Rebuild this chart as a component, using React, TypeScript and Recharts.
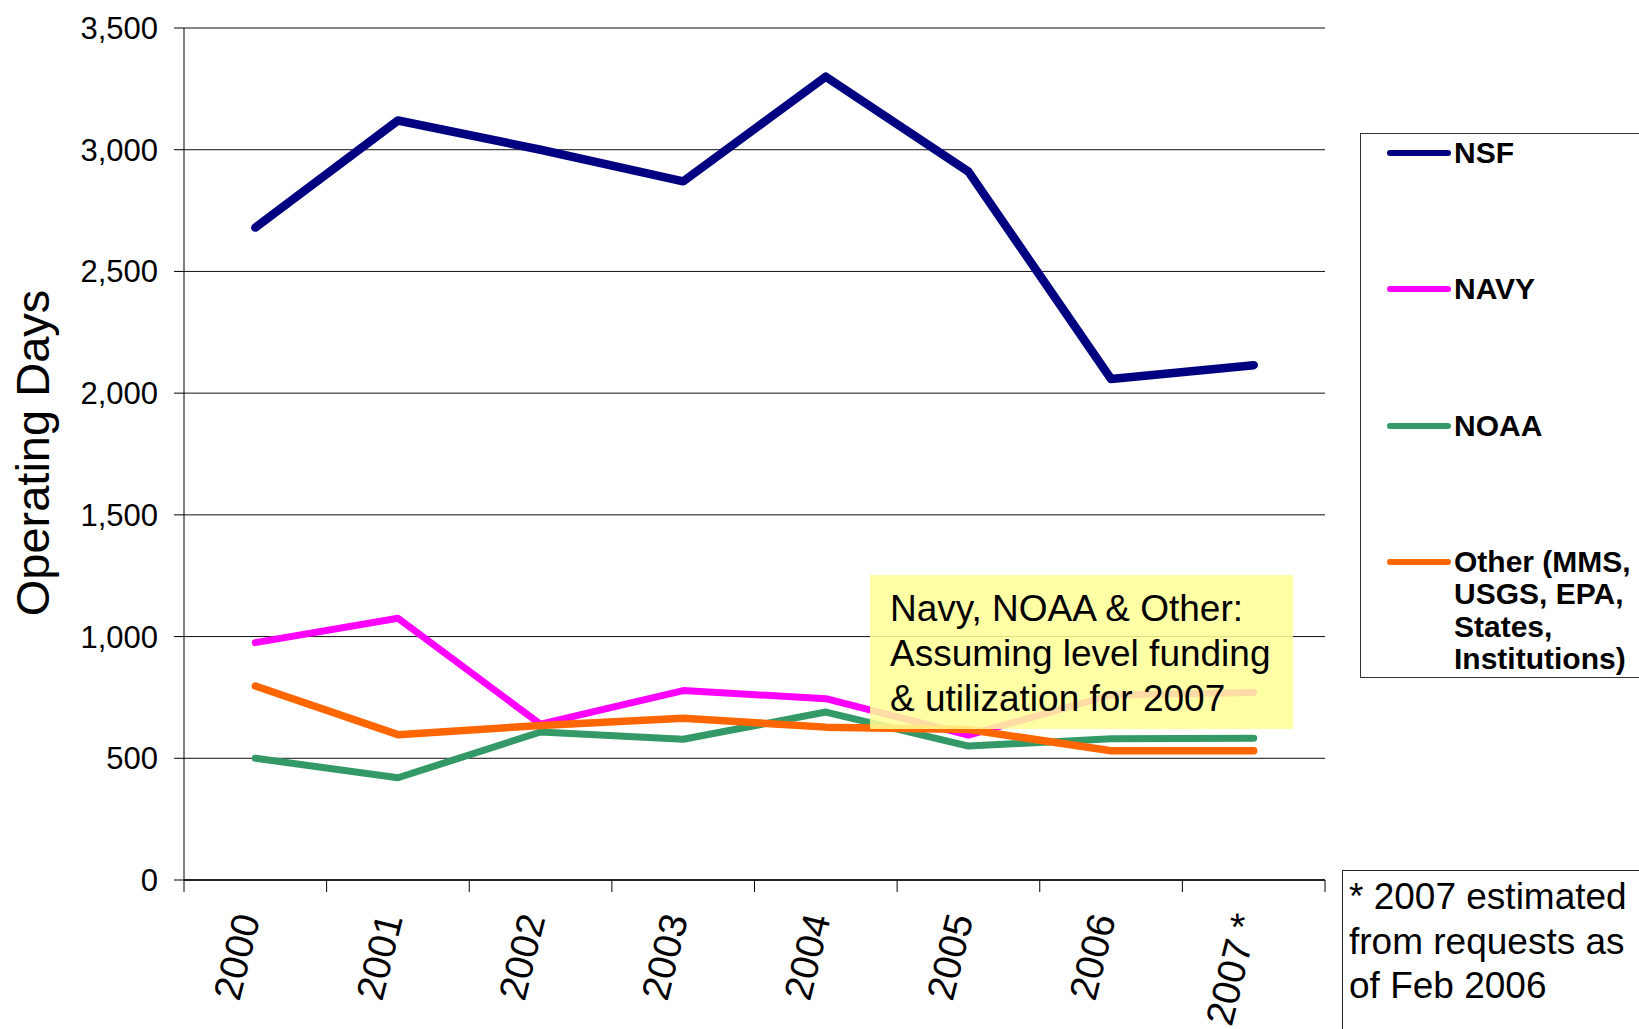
import React from "react";
import { LineChart, Line, XAxis, YAxis, CartesianGrid } from "recharts";

const FONT = "'Liberation Sans', Arial, sans-serif";

const yearLabels = ["2000", "2001", "2002", "2003", "2004", "2005", "2006", "2007 *"];
const nsfDays = [2680, 3120, 3000, 2870, 3300, 2910, 2058, 2115];
const navyDays = [975, 1075, 640, 778, 745, 595, 760, 770];
const noaaDays = [500, 420, 608, 578, 690, 550, 580, 582];
const otherDays = [797, 597, 635, 664, 628, 618, 531, 531];
const yTicks = [0, 500, 1000, 1500, 2000, 2500, 3000, 3500];
const xBoundaryTicks = [0, 1, 2, 3, 4, 5, 6, 7, 8];

const series = [
  { key: "nsf", name: "NSF", color: "#000080", width: 8.5, values: nsfDays },
  { key: "navy", name: "NAVY", color: "#FF00FF", width: 7, values: navyDays },
  { key: "noaa", name: "NOAA", color: "#339966", width: 7, values: noaaDays },
  { key: "other", name: "Other (MMS,\nUSGS, EPA,\nStates,\nInstitutions)", color: "#FF6600", width: 7.5, values: otherDays },
];

const data = yearLabels.map((year, i) => {
  const row: any = { x: i + 0.5, year };
  series.forEach((s) => {
    row[s.key] = s.values[i];
  });
  return row;
});

const PLOT_WIDTH = 1639 - 74 - 110 - 314;

const XTick = (props: any) => {
  const { x, y, payload, width } = props;
  const idx = Math.round(payload.value);
  if (idx >= yearLabels.length) return <g />;
  const w = typeof width === "number" && width > 0 ? width : PLOT_WIDTH;
  const step = w / yearLabels.length;
  const cx = x + step / 2 + 5;
  const cy = y + 24;
  return (
    <text
      x={cx}
      y={cy}
      transform={`rotate(-76 ${cx} ${cy})`}
      textAnchor="end"
      fontSize={39}
      fontFamily={FONT}
      fill="#000"
    >
      {yearLabels[idx]}
    </text>
  );
};

const fmt = (v: number) => v.toLocaleString("en-US");

export default function App() {
  return (
    <div style={{ position: "absolute", left: 0, top: 0, width: 1639, height: 1029, overflow: "hidden", background: "#fff" }}>
      <LineChart
        width={1639}
        height={1029}
        data={data}
        margin={{ top: 28, right: 314, bottom: 9, left: 74 }}
      >
        <CartesianGrid horizontal={true} vertical={false} stroke="#111" strokeWidth={1} />
        <XAxis
          dataKey="x"
          type="number"
          domain={[0, 8]}
          ticks={xBoundaryTicks}
          interval={0}
          height={140}
          tickSize={12}
          tickMargin={2}
          tickLine={{ stroke: "#000", strokeWidth: 1 }}
          axisLine={{ stroke: "#000", strokeWidth: 1.5 }}
          tick={<XTick />}
          allowDecimals={false}
        />
        <YAxis
          type="number"
          domain={[0, 3500]}
          ticks={yTicks}
          interval={0}
          width={110}
          tickSize={10}
          tickMargin={16}
          tickFormatter={fmt}
          tickLine={{ stroke: "#000", strokeWidth: 1 }}
          axisLine={{ stroke: "#000", strokeWidth: 1 }}
          tick={{ fontSize: 31, fill: "#000", fontFamily: FONT }}
          label={{
            content: () => (
              <text
                x={49}
                y={453}
                transform="rotate(-90 49 453)"
                textAnchor="middle"
                fontSize={47}
                fontFamily={FONT}
                fill="#000"
              >
                Operating Days
              </text>
            ),
          }}
        />
        {series.map((s) => (
          <Line
            key={s.key}
            dataKey={s.key}
            type="linear"
            stroke={s.color}
            strokeWidth={s.width}
            strokeLinecap="round"
            strokeLinejoin="round"
            dot={false}
            activeDot={false}
            isAnimationActive={false}
          />
        ))}
      </LineChart>

      <div
        style={{
          position: "absolute",
          left: 870,
          top: 575,
          width: 423,
          height: 154,
          background: "rgba(255,255,150,0.86)",
          fontFamily: FONT,
          fontSize: 37,
          lineHeight: "45px",
          color: "#000",
          boxSizing: "border-box",
          padding: "11px 0 0 20px",
          whiteSpace: "nowrap",
        }}
      >
        Navy, NOAA &amp; Other:
        <br />
        Assuming level funding
        <br />
        &amp; utilization for 2007
      </div>

      <div
        style={{
          position: "absolute",
          left: 1360,
          top: 133,
          width: 300,
          height: 545,
          border: "1.5px solid #333",
          boxSizing: "border-box",
          background: "#fff",
        }}
      >
        {series.map((s, i) => (
          <div key={s.key} style={{ position: "absolute", left: 0, top: 20.6 - 1.5 + i * 136.2 - 16 }}>
            <div
              style={{
                position: "absolute",
                left: 26,
                top: 13,
                width: 64,
                height: 6,
                borderRadius: 3,
                background: s.color,
              }}
            />
            <div
              style={{
                position: "absolute",
                left: 93,
                top: 0,
                fontFamily: FONT,
                fontWeight: "bold",
                fontSize: 30,
                lineHeight: "32.5px",
                color: "#000",
                whiteSpace: "pre",
              }}
            >
              {s.name}
            </div>
          </div>
        ))}
      </div>

      <div
        style={{
          position: "absolute",
          left: 1342,
          top: 870,
          width: 320,
          height: 200,
          borderLeft: "1.5px solid #222",
          borderTop: "1.5px solid #222",
          boxSizing: "border-box",
          fontFamily: FONT,
          fontSize: 37,
          lineHeight: "44.5px",
          color: "#000",
          padding: "4px 0 0 6px",
          whiteSpace: "nowrap",
        }}
      >
        * 2007 estimated
        <br />
        from requests as
        <br />
        of Feb 2006
      </div>
    </div>
  );
}
